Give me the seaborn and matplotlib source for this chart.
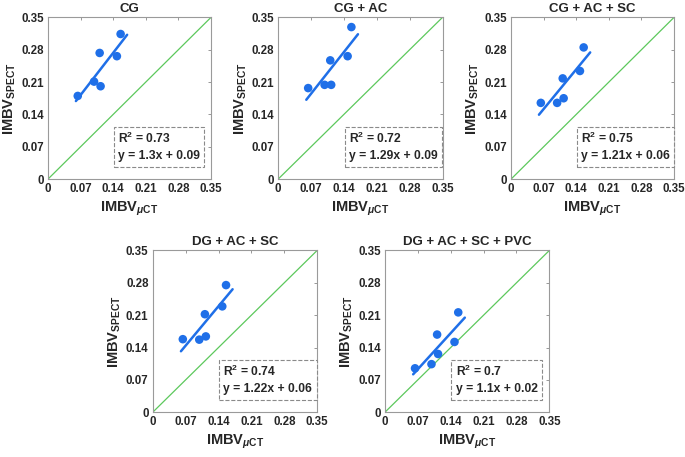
import numpy as np
import pandas as pd
import seaborn as sns
import matplotlib.pyplot as plt

# IMBV measured by micro-CT (same mice in every panel)
imbv_uct = [0.064, 0.099, 0.113, 0.111, 0.148, 0.156]

# IMBV from SPECT for each reconstruction variant
titles = ["CG", "CG + AC", "CG + AC + SC", "DG + AC + SC", "DG + AC + SC + PVC"]
spect_cg = [0.180, 0.211, 0.201, 0.273, 0.266, 0.314]
spect_cg_ac = [0.197, 0.204, 0.204, 0.257, 0.266, 0.329]
spect_cg_ac_sc = [0.165, 0.165, 0.175, 0.218, 0.234, 0.285]
spect_dg_ac_sc = [0.158, 0.157, 0.164, 0.212, 0.229, 0.275]
spect_dg_ac_sc_pvc = [0.095, 0.104, 0.126, 0.168, 0.152, 0.216]

# reported fit stats
r2 = [0.73, 0.72, 0.75, 0.74, 0.7]
fit_text = ["y = 1.3x + 0.09", "y = 1.29x + 0.09", "y = 1.21x + 0.06",
            "y = 1.22x + 0.06", "y = 1.1x + 0.02"]
fit_range = [0.06, 0.17]

ticks = [0, 0.07, 0.14, 0.21, 0.28, 0.35]
tick_labels = ["0", "0.07", "0.14", "0.21", "0.28", "0.35"]

sns.set_style("white")
plt.rcParams["font.family"] = ["Liberation Sans", "DejaVu Sans"]
plt.rcParams["font.weight"] = "bold"
plt.rcParams["mathtext.fontset"] = "custom"
plt.rcParams["mathtext.rm"] = "Liberation Sans:bold"
plt.rcParams["mathtext.it"] = "Liberation Sans:bold:italic"
plt.rcParams["mathtext.bf"] = "Liberation Sans:bold"

blue = "#1f6fe8"
green = "#5cc85c"

fig = plt.figure(figsize=(6.85, 4.57), dpi=100)
positions = [
    (0.070, 0.608, 0.238, 0.354),
    (0.406, 0.608, 0.240, 0.354),
    (0.746, 0.608, 0.238, 0.354),
    (0.223, 0.098, 0.240, 0.354),
    (0.562, 0.098, 0.240, 0.354),
]
all_spect = [spect_cg, spect_cg_ac, spect_cg_ac_sc, spect_dg_ac_sc, spect_dg_ac_sc_pvc]

for i, (pos, ys) in enumerate(zip(positions, all_spect)):
    ax = fig.add_axes(pos)
    df = pd.DataFrame({"uct": imbv_uct, "spect": ys})

    # identity line
    sns.lineplot(x=[0, 0.35], y=[0, 0.35], ax=ax, color=green, lw=0.9)

    # linear fit over the data range
    slope, icpt = np.polyfit(df["uct"], df["spect"], 1)
    fx = np.array(fit_range)
    sns.lineplot(x=fx, y=slope * fx + icpt, ax=ax, color=blue, lw=1.8)

    sns.scatterplot(data=df, x="uct", y="spect", ax=ax, color=blue,
                    s=38, edgecolor="none", zorder=3)

    ax.set_xlim(0, 0.35)
    ax.set_ylim(0, 0.35)
    ax.set_xticks(ticks)
    ax.set_yticks(ticks)
    ax.set_xticklabels(tick_labels, fontsize=8.3, fontweight="bold")
    ax.set_yticklabels(tick_labels, fontsize=8.3, fontweight="bold")
    ax.tick_params(direction="in", length=2.5, width=0.6, color="#888888",
                   top=True, right=True, pad=3)
    for sp in ax.spines.values():
        sp.set_color("#9a9a9a")
        sp.set_linewidth(0.8)

    ax.set_title(titles[i], fontsize=9.5, fontweight="bold", pad=4)
    ax.set_xlabel(r"IMBV$_{\mu\mathrm{CT}}$", fontsize=10.5, fontweight="bold", labelpad=3)
    ax.set_ylabel(r"IMBV$_{\mathrm{SPECT}}$", fontsize=10.5, fontweight="bold", labelpad=2)

    ax.text(0.43, 0.20, f"R$^2$ = {r2[i]}\n{fit_text[i]}", transform=ax.transAxes,
            fontsize=8.7, fontweight="bold", va="center", ha="left", linespacing=1.45,
            bbox=dict(boxstyle="square,pad=0.35", fc="white", ec="#8a8a8a",
                      ls="--", lw=0.8))

plt.savefig("out.png", dpi=100)
